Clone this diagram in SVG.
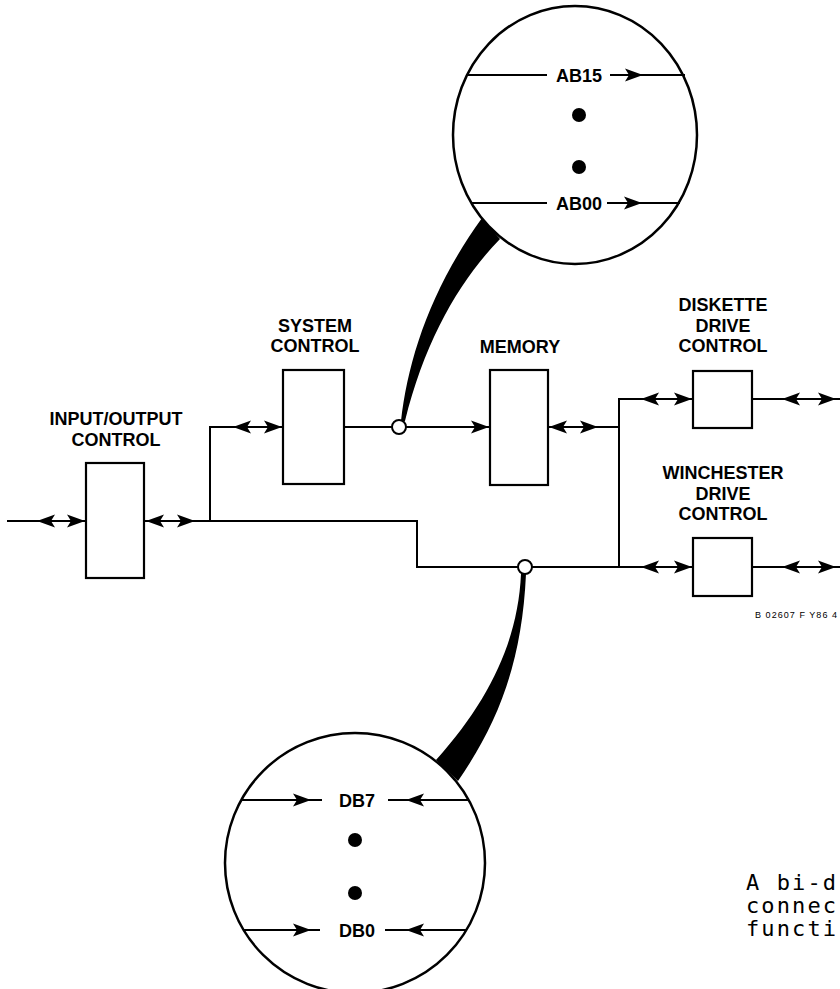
<svg xmlns="http://www.w3.org/2000/svg" xmlns:xlink="http://www.w3.org/1999/xlink" width="840" height="989" viewBox="0 0 840 989">
<style>
.box{fill:none;stroke:#000;stroke-width:2.2}
.ln{fill:none;stroke:#000;stroke-width:2}
.lbl{font-family:"Liberation Sans",Arial,sans-serif;font-weight:bold;font-size:18px;text-anchor:middle;fill:#000}
.ring{fill:none;stroke:#000;stroke-width:2.5}
.dot{fill:#000}
.tap{fill:#fff;stroke:#000;stroke-width:2}
.mono{font-family:"DejaVu Sans Mono","Liberation Mono",monospace;font-size:22px;fill:#000}
.ref{font-family:"Liberation Sans",Arial,sans-serif;font-size:9px;fill:#000}
</style>
<defs>
<path id="ar" d="M0,0 L-18,-6.5 L-14,0 L-18,6.5 Z" fill="#000"/>
<path id="al" d="M0,0 L18,-6.5 L14,0 L18,6.5 Z" fill="#000"/>
</defs>
<rect width="840" height="989" fill="#fff"/>

<g id="connectors">
<line class="ln" x1="7" y1="521" x2="86" y2="521"/>
<use xlink:href="#al" x="37" y="521"/>
<use xlink:href="#ar" x="85" y="521"/>
<polyline class="ln" points="144,521 417,521 417,567 693,567"/>
<use xlink:href="#al" x="146" y="521"/>
<use xlink:href="#ar" x="195" y="521"/>
<polyline class="ln" points="210,521 210,427 283,427"/>
<use xlink:href="#al" x="233" y="427"/>
<use xlink:href="#ar" x="282" y="427"/>
<line class="ln" x1="344" y1="427" x2="490" y2="427"/>
<use xlink:href="#ar" x="489" y="427"/>
<line class="ln" x1="548" y1="427" x2="619" y2="427"/>
<use xlink:href="#al" x="549" y="427"/>
<use xlink:href="#ar" x="598" y="427"/>
<polyline class="ln" points="693,399 619,399 619,567"/>
<use xlink:href="#al" x="641" y="399"/>
<use xlink:href="#ar" x="692" y="399"/>
<use xlink:href="#al" x="641" y="567"/>
<use xlink:href="#ar" x="692" y="567"/>
<line class="ln" x1="752" y1="399" x2="840" y2="399"/>
<use xlink:href="#al" x="782" y="399"/>
<use xlink:href="#ar" x="836" y="399"/>
<line class="ln" x1="752" y1="567" x2="840" y2="567"/>
<use xlink:href="#al" x="782" y="567"/>
<use xlink:href="#ar" x="836" y="567"/>
<circle class="tap" cx="399" cy="427" r="7"/>
<circle class="tap" cx="525" cy="567" r="7"/>
</g>

<g id="io">
<rect class="box" x="86" y="463" width="58" height="115"/>
<text class="lbl" x="116" y="424.5">INPUT/OUTPUT</text>
<text class="lbl" x="116" y="445.5">CONTROL</text>
</g>

<g id="sys">
<rect class="box" x="283" y="370" width="61" height="114"/>
<text class="lbl" x="315" y="331.5">SYSTEM</text>
<text class="lbl" x="315" y="351.5">CONTROL</text>
</g>

<g id="mem">
<rect class="box" x="490" y="370" width="58" height="115"/>
<text class="lbl" x="520" y="352.5">MEMORY</text>
</g>

<g id="disk">
<rect class="box" x="693" y="371" width="59" height="57"/>
<text class="lbl" x="723" y="310.5">DISKETTE</text>
<text class="lbl" x="723" y="331.5">DRIVE</text>
<text class="lbl" x="723" y="351.5">CONTROL</text>
</g>

<g id="winch">
<rect class="box" x="693" y="538" width="59" height="58"/>
<text class="lbl" x="723" y="478.5">WINCHESTER</text>
<text class="lbl" x="723" y="499.5">DRIVE</text>
<text class="lbl" x="723" y="519.5">CONTROL</text>
</g>

<g id="address-magnifier">
<path d="M401,421 C408,360 430,290 482,218 L500,239 C460,280 425,340 405,421 Z" fill="#000"/>
<ellipse class="ring" cx="575" cy="135" rx="122" ry="129" fill="#fff"/>
<line class="ln" x1="466" y1="75" x2="547" y2="75"/>
<line class="ln" x1="610" y1="75" x2="685" y2="75"/>
<use xlink:href="#ar" x="643" y="75"/>
<text class="lbl" x="579" y="81.5">AB15</text>
<circle class="dot" cx="579" cy="115" r="7"/>
<circle class="dot" cx="579" cy="167" r="7"/>
<line class="ln" x1="471" y1="203" x2="547" y2="203"/>
<line class="ln" x1="607" y1="203" x2="680" y2="203"/>
<use xlink:href="#ar" x="642" y="203"/>
<text class="lbl" x="579" y="209.5">AB00</text>
</g>

<g id="data-magnifier">
<path d="M521,574 C518,640 490,700 436,760 L458,781 C500,720 522,660 526,574 Z" fill="#000"/>
<circle class="ring" cx="355" cy="863" r="130" fill="#fff"/>
<line class="ln" x1="241" y1="800" x2="322" y2="800"/>
<use xlink:href="#ar" x="311" y="800"/>
<line class="ln" x1="388" y1="800" x2="468" y2="800"/>
<use xlink:href="#al" x="406" y="800"/>
<text class="lbl" x="357" y="806.5">DB7</text>
<circle class="dot" cx="355" cy="840" r="7"/>
<circle class="dot" cx="355" cy="893" r="7"/>
<line class="ln" x1="244" y1="930" x2="320" y2="930"/>
<use xlink:href="#ar" x="311" y="930"/>
<line class="ln" x1="385" y1="930" x2="466" y2="930"/>
<use xlink:href="#al" x="406" y="930"/>
<text class="lbl" x="357" y="936.5">DB0</text>
</g>

<text class="ref" x="755" y="618" textLength="82" lengthAdjust="spacing">B 02607 F Y86 4</text>
<g id="caption">
<text class="mono" x="746" y="890" textLength="90" lengthAdjust="spacing">A bi-d</text>
<text class="mono" x="746" y="913" textLength="90" lengthAdjust="spacing">connec</text>
<text class="mono" x="746" y="936" textLength="90" lengthAdjust="spacing">functi</text>
</g>
</svg>
